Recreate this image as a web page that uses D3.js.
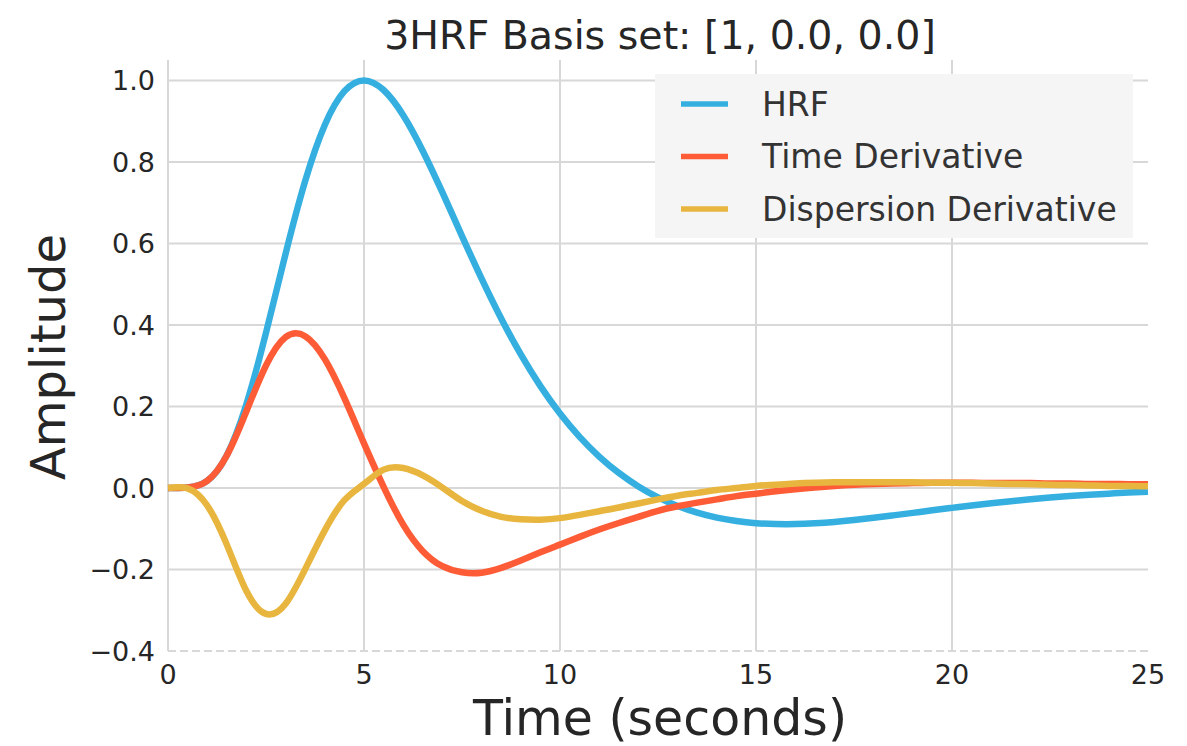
<!DOCTYPE html>
<html>
<head>
<meta charset="utf-8">
<script src="https://d3js.org/d3.v7.min.js"></script>
<style>
  body { margin: 0; background: #fff; }
  text { font-family: "DejaVu Sans", sans-serif; fill: #262626; }
</style>
</head>
<body>
<div id="chart"></div>
<script>

// time axis, sampled every 0.5 s
var times = d3.range(0, 25.01, 0.5);

// values, one per time sample
var hrf = [0, 0.001, 0.0175, 0.0805, 0.2057, 0.3809, 0.5747, 0.7533, 0.8907, 0.9735,
           1.0, 0.9764, 0.9146, 0.8269, 0.7250, 0.6180, 0.5136, 0.4158, 0.3276, 0.2499,
           0.1826, 0.1254, 0.0771, 0.0369, 0.0038, -0.0230, -0.0442, -0.0606, -0.0728, -0.0811,
           -0.0863, -0.0886, -0.0887, -0.0867, -0.0833, -0.0787, -0.0733, -0.0673, -0.0611, -0.0548,
           -0.0488, -0.0429, -0.0375, -0.0324, -0.0277, -0.0236, -0.0199, -0.0166, -0.0139, -0.0114,
           -0.0094];

var timeDeriv = [0, 0.001, 0.0175, 0.0796, 0.1882, 0.3004, 0.3700, 0.3724, 0.3160, 0.2203,
                 0.1093, 0.0028, -0.090, -0.155, -0.192, -0.207, -0.208, -0.196, -0.178, -0.158,
                 -0.139, -0.120, -0.102, -0.086, -0.071, -0.056, -0.045, -0.036, -0.028, -0.020,
                 -0.014, -0.008, -0.003, 0.001, 0.005, 0.008, 0.010, 0.011, 0.012, 0.013,
                 0.013, 0.013, 0.012, 0.012, 0.012, 0.011, 0.011, 0.010, 0.010, 0.009,
                 0.009];

var dispDeriv = [0, -0.001, -0.043, -0.139, -0.253, -0.309, -0.284, -0.199, -0.104, -0.030,
                 0.010, 0.045, 0.049, 0.031, 0.001, -0.032, -0.056, -0.071, -0.077, -0.078,
                 -0.074, -0.066, -0.057, -0.048, -0.038, -0.028, -0.019, -0.012, -0.005, 0.000,
                 0.005, 0.008, 0.011, 0.013, 0.014, 0.014, 0.014, 0.014, 0.014, 0.013,
                 0.013, 0.012, 0.011, 0.010, 0.009, 0.008, 0.007, 0.006, 0.005, 0.005,
                 0.004];

var seriesNames = ["HRF", "Time Derivative", "Dispersion Derivative"];
var seriesColors = ["#35afe0", "#fd5c36", "#e8b63e"];
var xTicks = [0, 5, 10, 15, 20, 25];
var yTicks = [-0.4, -0.2, 0.0, 0.2, 0.4, 0.6, 0.8, 1.0];

var W = 1187, H = 746;
var margin = {top: 60, right: 39, bottom: 95, left: 168};
var width = W - margin.left - margin.right,
    height = H - margin.top - margin.bottom;

var svg = d3.select("#chart").append("svg")
    .attr("width", W)
    .attr("height", H);

var g = svg.append("g")
    .attr("transform", "translate(" + margin.left + "," + margin.top + ")");

var x = d3.scaleLinear().domain([0, 25]).range([0, width]);
var y = d3.scaleLinear().domain([-0.4, 1.05]).range([height, 0]);

// grid
g.selectAll(".vgrid")
  .data(xTicks.filter(function(d) { return d < 25; }))
  .enter().append("line")
    .attr("x1", function(d) { return x(d); })
    .attr("x2", function(d) { return x(d); })
    .attr("y1", 0)
    .attr("y2", height)
    .attr("stroke", "#d8d8d8")
    .attr("stroke-width", 2);

g.selectAll(".hgrid")
  .data(yTicks)
  .enter().append("line")
    .attr("x1", 0)
    .attr("x2", width)
    .attr("y1", function(d) { return y(d); })
    .attr("y2", function(d) { return y(d); })
    .attr("stroke", "#d8d8d8")
    .attr("stroke-width", 2)
    .attr("stroke-dasharray", function(d) { return d === -0.4 ? "8,4" : null; });

// tick labels
var fmtY = function(d) { return d3.format(".1f")(d).replace("-", "\u2212"); };

g.selectAll(".ylab")
  .data(yTicks)
  .enter().append("text")
    .attr("x", -13)
    .attr("y", function(d) { return y(d); })
    .attr("dy", "0.36em")
    .attr("text-anchor", "end")
    .style("font-size", "27px")
    .text(fmtY);

g.selectAll(".xlab")
  .data(xTicks)
  .enter().append("text")
    .attr("x", function(d) { return x(d); })
    .attr("y", height + 33)
    .attr("text-anchor", "middle")
    .style("font-size", "27px")
    .text(function(d) { return d; });

// curves
var line = d3.line()
    .x(function(d, i) { return x(times[i]); })
    .y(function(d) { return y(d); })
    .curve(d3.curveNatural);

[hrf, timeDeriv, dispDeriv].forEach(function(s, k) {
  g.append("path")
    .datum(s)
    .attr("d", line)
    .attr("fill", "none")
    .attr("stroke", seriesColors[k])
    .attr("stroke-width", 6.5)
    .attr("stroke-linejoin", "round");
});

// legend
var legend = svg.append("g").attr("transform", "translate(655,74)");
legend.append("rect")
    .attr("width", 478)
    .attr("height", 164)
    .attr("fill", "#f5f5f5");

seriesNames.forEach(function(name, k) {
  var ly = 30 + k * 52.5;
  legend.append("line")
    .attr("x1", 26).attr("x2", 73)
    .attr("y1", ly).attr("y2", ly)
    .attr("stroke", seriesColors[k])
    .attr("stroke-width", 5.5);
  legend.append("text")
    .attr("x", 107)
    .attr("y", ly)
    .attr("dy", "0.36em")
    .style("font-size", "33px")
    .style("fill", "#333")
    .text(name);
});

// title and axis labels
svg.append("text")
    .attr("x", 660)
    .attr("y", 49)
    .attr("text-anchor", "middle")
    .style("font-size", "39.5px")
    .text("3HRF Basis set: [1, 0.0, 0.0]");

svg.append("text")
    .attr("x", 660)
    .attr("y", 735)
    .attr("text-anchor", "middle")
    .style("font-size", "49px")
    .text("Time (seconds)");

svg.append("text")
    .attr("transform", "translate(65,357) rotate(-90)")
    .attr("text-anchor", "middle")
    .style("font-size", "48px")
    .text("Amplitude");

</script>
</body>
</html>
